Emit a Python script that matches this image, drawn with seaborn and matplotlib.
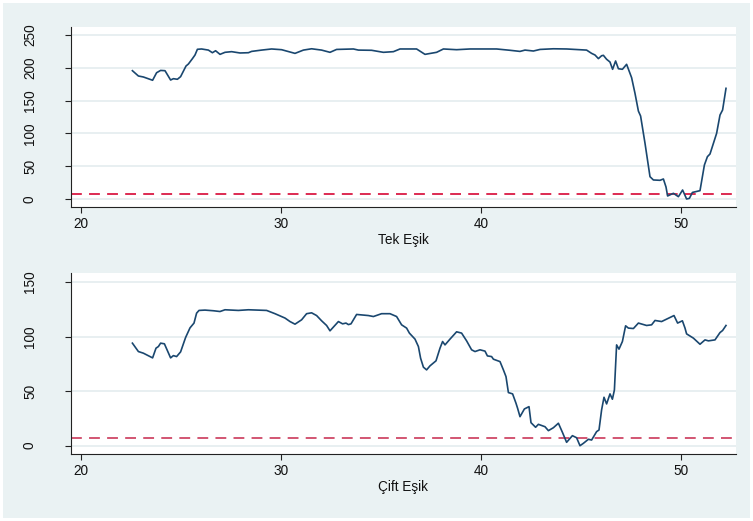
import matplotlib
matplotlib.use("Agg")
import matplotlib.pyplot as plt
import matplotlib.patches as mpatches
import numpy as np
import pandas as pd
import seaborn as sns

# Tek Eşik series
x_tek = [22.57, 22.87, 23.12, 23.58, 23.78, 23.98, 24.2, 24.48, 24.62, 24.82,
         24.98, 25.25, 25.37, 25.57, 25.7, 25.82, 26.03, 26.37, 26.57, 26.73,
         26.95, 27.2, 27.53, 27.95, 28.37, 28.53, 29.03, 29.53, 30.03, 30.7,
         31.12, 31.53, 32.03, 32.45, 32.78, 33.62, 33.87, 34.53, 35.12, 35.62,
         35.95, 36.78, 37.2, 37.78, 38.12, 38.78, 39.45, 40.2, 40.78, 41.45,
         41.95, 42.2, 42.62, 42.95, 43.62, 44.28, 45.28, 45.53, 45.7, 45.87,
         46.03, 46.12, 46.28, 46.45, 46.58, 46.73, 46.87, 47.07, 47.28, 47.53,
         47.7, 47.87, 47.98, 48.2, 48.45, 48.62, 48.95, 49.12, 49.25, 49.33,
         49.62, 49.87, 50.08, 50.28, 50.42, 50.57, 50.95, 51.17, 51.32, 51.45,
         51.78, 51.95, 52.08, 52.25]
y_tek = [195.6, 187.5, 186, 181, 192.5, 196, 195.6, 181.4, 183.4, 182.5,
         186.5, 202.7, 205.8, 213.9, 219.5, 228.2, 228.7, 227, 223, 226,
         220.5, 223.6, 224.6, 222.6, 223, 225, 227, 228.7, 227.6, 222,
         227, 229, 227, 223.6, 228, 228.7, 227, 226.7, 223.6, 224.6,
         228.7, 228.7, 220.5, 223.6, 228.7, 227.6, 228.7, 228.7, 228.7, 226.7,
         225, 227, 225.6, 228, 229, 228.7, 227, 222, 219.5, 214,
         218.4, 219, 213, 208.8, 197.7, 210.4, 198.6, 197.7, 205.3, 185,
         161, 134, 126.5, 85, 34, 29, 28.5, 30.5, 18.3, 4.6,
         8.7, 3.5, 13.7, 0, 1, 10, 12.7, 51.8, 64.5, 68.6,
         100, 128, 135.7, 168.7]

# Çift Eşik series
x_cift = [22.57, 22.87, 23.12, 23.58, 23.75, 23.87, 23.98, 24.17, 24.32, 24.48,
          24.62, 24.78, 24.98, 25.23, 25.45, 25.65, 25.78, 25.9, 26.2, 26.62,
          26.95, 27.2, 27.87, 28.37, 29.28, 29.7, 30.2, 30.45, 30.7, 31.03,
          31.28, 31.53, 31.78, 32.03, 32.28, 32.45, 32.62, 32.87, 33.08, 33.25,
          33.37, 33.5, 33.78, 34.37, 34.62, 35.03, 35.45, 35.78, 36.03, 36.28,
          36.42, 36.7, 36.87, 36.98, 37.12, 37.28, 37.45, 37.75, 37.95, 38.08,
          38.2, 38.45, 38.78, 39.03, 39.28, 39.53, 39.7, 39.95, 40.2, 40.32,
          40.53, 40.62, 40.95, 41.12, 41.25, 41.37, 41.58, 41.75, 41.83, 41.95,
          42.17, 42.4, 42.5, 42.73, 42.87, 43.2, 43.37, 43.62, 43.87, 44.07,
          44.28, 44.57, 44.78, 44.95, 45.12, 45.37, 45.53, 45.78, 45.9, 46.03,
          46.15, 46.28, 46.45, 46.57, 46.67, 46.78, 46.9, 47.07, 47.23, 47.37,
          47.62, 47.87, 48.28, 48.53, 48.7, 49.03, 49.65, 49.83, 50.07, 50.2,
          50.28, 50.62, 50.95, 51.2, 51.37, 51.7, 51.95, 52.08, 52.25]
y_cift = [94, 86.3, 84.8, 80.5, 89.4, 90.9, 94, 93.4, 87.2, 80.5,
          82.6, 81.7, 86, 99.2, 108, 112.4, 121.5, 124, 124.3, 123.7,
          123, 124.6, 124, 124.6, 124, 121, 117, 113.8, 111.4, 115.4,
          121, 121.8, 119.3, 114.5, 110.2, 105.3, 108.7, 113.8, 111.7, 112.4,
          111, 111.7, 120.3, 119.3, 118.4, 121, 121, 118.4, 110.8, 107.8,
          103.2, 97.7, 90.9, 80.2, 72, 69.5, 73.2, 77.8, 89.4, 95.5,
          92.4, 97.7, 104.4, 103.2, 96.1, 87.9, 86.3, 87.9, 86.7, 82.3,
          81.7, 79.3, 77.1, 69.5, 63.3, 48.7, 47.5, 38.9, 34.3, 26.6,
          33.7, 35.8, 21.1, 16.9, 19.6, 17.4, 13.8, 16.5, 20.6, 12.3,
          3.1, 9.2, 7.3, 0, 2.2, 5.9, 5.2, 12.9, 14.4, 32.8,
          44.4, 38.3, 47.5, 42.6, 51.1, 92.4, 88.5, 95.5, 109.9, 107.8,
          107.4, 112.4, 110.2, 110.8, 114.8, 113.8, 119.3, 112.4, 114.5, 107.8,
          102.5, 98.6, 93, 97, 96.1, 97, 103.7, 105.6, 110.2]

x_ticks = [20, 30, 40, 50]
y_ticks_tek = [0, 50, 100, 150, 200, 250]
y_ticks_cift = [0, 50, 100, 150]
threshold = 7.4

plt.rcParams['font.family'] = ['Liberation Sans', 'DejaVu Sans']

BG = '#EAF2F3'
LINE = '#1A476F'

fig = plt.figure(figsize=(7.53, 5.21), dpi=100, facecolor='white')
fig.patches.append(mpatches.Rectangle((3 / 753, 3 / 521), 747 / 753, 515 / 521,
                                      transform=fig.transFigure, facecolor=BG,
                                      edgecolor='none', zorder=-10))

W, H = 753, 521


def make_axes(left, top, right, bottom):
    return fig.add_axes([left / W, 1 - bottom / H, (right - left) / W, (bottom - top) / H])


panels = [
    dict(ax=make_axes(71, 27, 736, 207), x=x_tek, y=y_tek, yt=y_ticks_tek,
         ylim=(-12.2, 262.2), label='Tek Eşik', red='#DA1A44'),
    dict(ax=make_axes(71, 273, 736, 454), x=x_cift, y=y_cift, yt=y_ticks_cift,
         ylim=(-7.6, 158.3), label='Çift Eşik', red='#CF4867'),
]

for p in panels:
    ax = p['ax']
    ax.set_facecolor('white')
    df = pd.DataFrame({'x': p['x'], 'y': p['y']})
    for t in p['yt']:
        ax.axhline(t, color='#E6EEF0', lw=1.3, zorder=0)
    ax.axhline(threshold, color=p['red'], lw=1.3, dashes=(6, 4), zorder=2)
    sns.lineplot(data=df, x='x', y='y', ax=ax, color=LINE, lw=1.2, zorder=3)
    ax.set_xlim(19.5, 52.75)
    ax.set_ylim(*p['ylim'])
    ax.set_xticks(x_ticks)
    ax.set_yticks(p['yt'])
    ax.set_yticklabels([str(t) for t in p['yt']], rotation=90, va='center')
    ax.tick_params(axis='both', labelsize=9.8, length=4.5, width=0.8,
                   color='#222222', labelcolor='#111111')
    ax.tick_params(axis='y', pad=20)
    ax.tick_params(axis='x', pad=3)
    for s in ['top', 'right']:
        ax.spines[s].set_visible(False)
    for s in ['left', 'bottom']:
        ax.spines[s].set_color('#222222')
        ax.spines[s].set_linewidth(0.8)
    ax.set_ylabel('')
    ax.set_xlabel(p['label'], fontsize=9.8, labelpad=1, color='#111111')
    ax.grid(False)

fig.savefig('out.png', dpi=100, facecolor=fig.get_facecolor())
